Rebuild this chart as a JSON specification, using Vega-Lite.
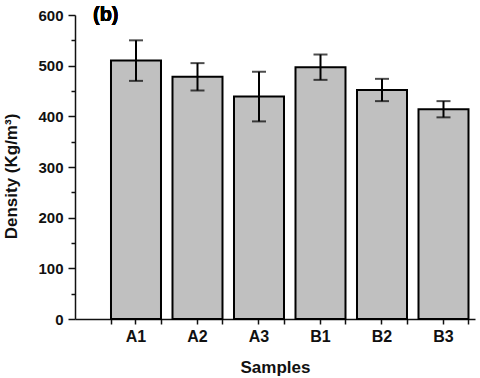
{
  "$schema": "https://vega.github.io/schema/vega-lite/v6.json",
  "autosize": {"type": "none"},
  "width": 400,
  "height": 304,
  "padding": {"left": 75, "top": 15, "right": 5, "bottom": 59},
  "background": "white",
  "config": {
    "view": {"stroke": null},
    "font": "Liberation Sans",
    "axis": {"domainColor": "#111", "tickColor": "#111", "domainWidth": 1.5, "tickWidth": 1.5, "labelColor": "#111", "titleColor": "#111", "labelFontWeight": "bold", "titleFontWeight": "bold", "grid": false}
  },
  "data": {
    "values": [
      {"Sample": "A1", "Density": 510, "Err": 40},
      {"Sample": "A2", "Density": 478, "Err": 27},
      {"Sample": "A3", "Density": 439, "Err": 49},
      {"Sample": "B1", "Density": 497, "Err": 25},
      {"Sample": "B2", "Density": 452, "Err": 22},
      {"Sample": "B3", "Density": 414, "Err": 16}
    ]
  },
  "resolve": {"axis": {"x": "independent", "y": "independent"}},
  "layer": [
    {
      "mark": {"type": "bar", "fill": "#c0c0c0", "stroke": "#000", "strokeWidth": 2},
      "encoding": {
        "x": {
          "field": "Sample", "type": "nominal", "sort": null,
          "scale": {"paddingInner": 0.187, "paddingOuter": 0.3455, "align": 0.847},
          "axis": {"orient": "bottom", "title": "Samples", "titleFontSize": 17, "titleY": 53, "titleBaseline": "alphabetic", "labelFontSize": 16, "labelAngle": 0, "labelPadding": 4, "tickSize": 5, "tickBand": "center"}
        },
        "y": {
          "field": "Density", "type": "quantitative",
          "scale": {"domain": [0, 600], "nice": false},
          "axis": {"orient": "left", "title": "Density (Kg/m³)", "titleFontSize": 17, "titleX": -64, "titleY": 161, "titleBaseline": "middle", "titleAngle": 270, "values": [0, 100, 200, 300, 400, 500, 600], "labelFontSize": 15, "labelPadding": 5, "tickSize": 7}
        }
      }
    },
    {
      "mark": {"type": "errorbar", "color": "#000", "thickness": 2, "ticks": {"size": 14, "thickness": 2, "color": "#000"}},
      "encoding": {
        "x": {
          "field": "Sample", "type": "nominal", "sort": null,
          "axis": {"orient": "bottom", "title": null, "labels": false, "domain": false, "tickSize": 5, "tickBand": "extent"}
        },
        "y": {
          "field": "Density", "type": "quantitative",
          "axis": {"orient": "left", "title": null, "labels": false, "domain": false, "tickSize": 4, "values": [50, 150, 250, 350, 450, 550]}
        },
        "yError": {"field": "Err"}
      }
    },
    {
      "mark": {"type": "text", "text": "(b)", "fontSize": 20, "fontWeight": "bold", "align": "left", "baseline": "middle", "dx": -43, "color": "#000"},
      "encoding": {
        "x": {"datum": "A1", "type": "nominal", "axis": null},
        "y": {"datum": 600, "type": "quantitative", "axis": null}
      }
    }
  ]
}
